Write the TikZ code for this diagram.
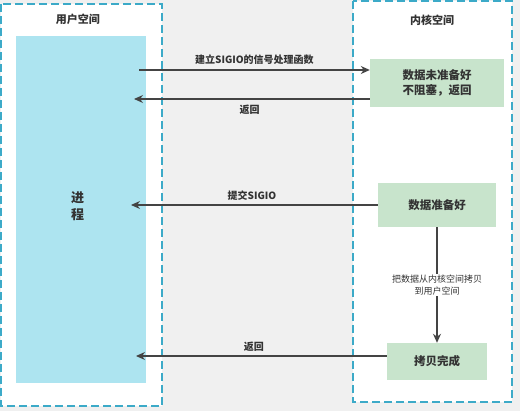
\documentclass[tikz,border=0pt]{standalone}
\usepackage{fontspec}
\setmainfont{Noto Sans CJK SC}
\usetikzlibrary{arrows.meta,calc}
\definecolor{bggray}{HTML}{F0F0F0}
\definecolor{procblue}{HTML}{ADE4F0}
\definecolor{boxgreen}{HTML}{C8E4CC}
\definecolor{dashblue}{HTML}{3CAAC8}
\definecolor{txt}{HTML}{333333}
\definecolor{arrc}{HTML}{444444}
\tikzset{
  spacebox/.style={draw=dashblue, fill=white, line width=1.6pt, dash pattern=on 8pt off 4pt},
  greenbox/.style={fill=boxgreen, text=txt, font=\bfseries\fontsize{11.5}{15}\selectfont, align=center, inner sep=0pt},
  title/.style={text=txt, font=\bfseries\fontsize{11}{13}\selectfont},
  lbl/.style={text=txt, font=\bfseries\fontsize{10}{13}\selectfont},
  small/.style={text=txt, font=\fontsize{9}{12}\selectfont, align=center, fill=white, inner sep=1pt},
  arr/.style={draw=arrc, line width=1.2pt, -{Stealth[length=9pt,width=8pt]}},
}
\begin{document}
\begin{tikzpicture}[x=1pt,y=-1pt]
\fill[bggray] (0,0) rectangle (520,411);
\useasboundingbox (0,0) rectangle (520,411);
% spaces
\draw[spacebox] (1,4) rectangle (162,406);
\draw[spacebox] (353,1) rectangle (512,402);
\node[title] (tu) at (78,19) {用户空间};
\node[title] (tk) at (432,20) {内核空间};
% process
\node[fill=procblue, minimum width=130pt, minimum height=347pt, inner sep=0pt] (p) at (81,209.5) {};
\node[text=txt, font=\bfseries\fontsize{13}{16.5}\selectfont, align=center] (pt) at (77.5,206) {进\\程};
% green boxes
\node[greenbox, minimum width=134pt, minimum height=48pt] (g1) at (437,83) {数据未准备好\\不阻塞，返回};
\node[greenbox, minimum width=118pt, minimum height=44pt] (g2) at (437,205) {数据准备好};
\node[greenbox, minimum width=100pt, minimum height=37pt] (g3) at (437,361.5) {拷贝完成};
% arrow anchor points
\coordinate (s1) at (139,70);
\coordinate (e2) at (134,99);
\coordinate (e3) at (131,205);
\coordinate (e4) at (136,356);
% connectors
\draw[arr] (s1) -- (g1.west |- s1) node[lbl, pos=0.5, above=2pt] {建立SIGIO的信号处理函数};
\draw[arr] (g1.west |- e2) -- (e2) node[lbl, pos=0.51, below=2pt] {返回};
\draw[arr] (g2.west) -- (e3) node[lbl, pos=0.51, above=1pt] {提交SIGIO};
\draw[arr] (g2.south) -- (g3.north) node[small, pos=0.5] {把数据从内核空间拷贝\\到用户空间};
\draw[arr] (g3.west |- e4) -- (e4) node[lbl, pos=0.53, above=1pt] {返回};
\end{tikzpicture}
\end{document}
